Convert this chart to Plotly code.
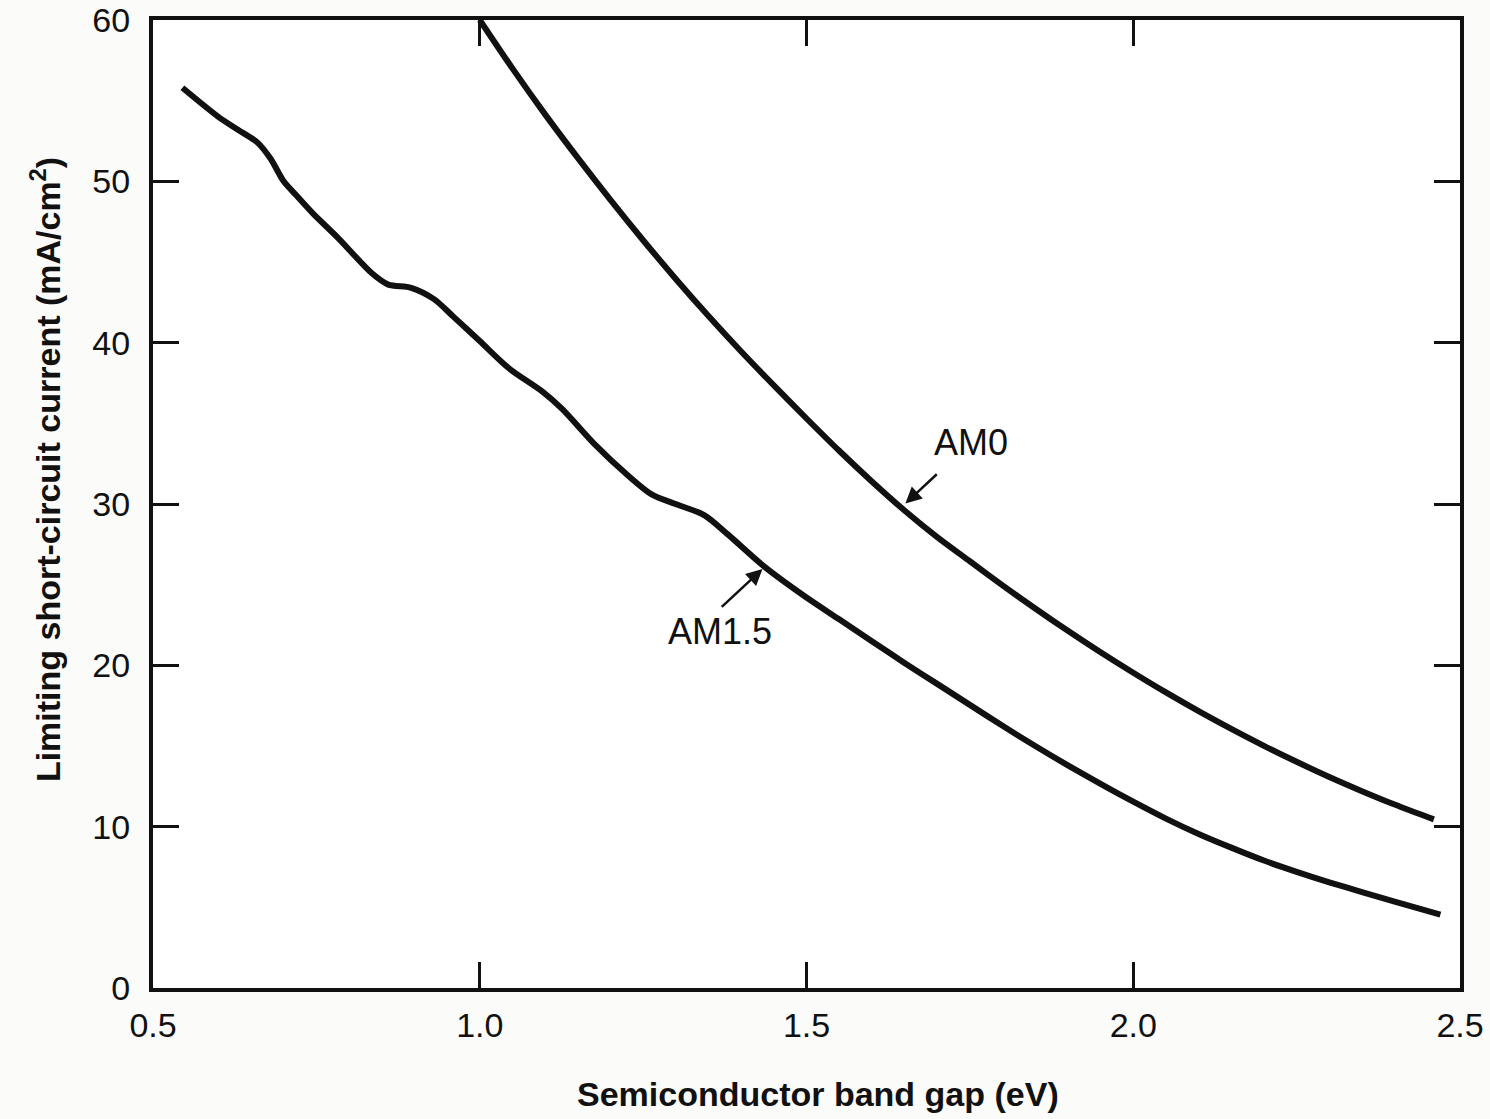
import plotly.graph_objects as go

# Limiting short-circuit current vs. semiconductor band gap
am0_gap = [1.00, 1.05, 1.10, 1.15, 1.20, 1.25, 1.30, 1.35, 1.40, 1.45, 1.50,
           1.55, 1.60, 1.65, 1.70, 1.75, 1.80, 1.85, 1.90, 1.95, 2.00, 2.05,
           2.10, 2.15, 2.20, 2.25, 2.30, 2.35, 2.40, 2.46]
am0_jsc = [60.0, 57.0, 54.15, 51.45, 48.85, 46.35, 43.95, 41.65, 39.45, 37.35,
           35.3, 33.3, 31.4, 29.6, 27.95, 26.45, 24.96, 23.52, 22.14, 20.81,
           19.54, 18.32, 17.16, 16.06, 15.01, 14.02, 13.08, 12.2, 11.37, 10.45]

am15_gap = [0.545, 0.60, 0.63, 0.66, 0.68, 0.70, 0.72, 0.745, 0.783, 0.835,
            0.86, 0.895, 0.93, 0.96, 1.00, 1.045, 1.095, 1.126, 1.176, 1.226,
            1.263, 1.303, 1.344, 1.38, 1.436, 1.50, 1.55, 1.60, 1.65, 1.70,
            1.75, 1.80, 1.85, 1.90, 1.95, 2.00, 2.05, 2.10, 2.15, 2.20, 2.25,
            2.30, 2.35, 2.40, 2.47]
am15_jsc = [55.8, 54.0, 53.2, 52.4, 51.4, 50.0, 49.1, 48.0, 46.5, 44.3,
            43.6, 43.4, 42.7, 41.6, 40.1, 38.4, 37.0, 35.9, 33.7, 31.8,
            30.6, 29.95, 29.3, 28.1, 26.1, 24.2, 22.85, 21.5, 20.15, 18.85,
            17.55, 16.25, 15.0, 13.8, 12.65, 11.55, 10.5, 9.55, 8.7, 7.9, 7.2,
            6.55, 5.95, 5.35, 4.55]

x_ticks = [0.5, 1.0, 1.5, 2.0, 2.5]
x_ticklabels = ["0.5", "1.0", "1.5", "2.0", "2.5"]
y_ticks = [0, 10, 20, 30, 40, 50, 60]

x_title = "<b>Semiconductor band gap (eV)</b>"
y_title = "<b>Limiting short-circuit current (mA/cm<sup>2</sup>)</b>"

INK = "#111111"
SANS = "Liberation Sans, Arial, Helvetica, sans-serif"
TICK_FONT = dict(family=SANS, size=34, color=INK)
TITLE_FONT = dict(family="Liberation Sans Narrow, " + SANS, size=34, color=INK)
LABEL_FONT = dict(family=SANS, size=36, color=INK)

fig = go.Figure()
for gx, gy, name in [(am0_gap, am0_jsc, "AM0"), (am15_gap, am15_jsc, "AM1.5")]:
    fig.add_trace(go.Scatter(
        x=gx, y=gy, mode="lines", name=name,
        line=dict(color=INK, width=6, shape="spline", smoothing=0.8),
        showlegend=False, hoverinfo="x+y",
    ))

axis_common = dict(
    showline=True, linecolor=INK, linewidth=4, mirror="ticks",
    ticks="inside", ticklen=26, tickwidth=3, tickcolor=INK,
    showgrid=False, zeroline=False, tickfont=TICK_FONT,
)

fig.update_xaxes(range=[0.5, 2.5], tickvals=x_ticks, ticktext=x_ticklabels,
                 ticklabelstandoff=4, **axis_common)
fig.update_yaxes(range=[0, 60], tickvals=y_ticks, ticklabelstandoff=12,
                 **axis_common)

arrow_style = dict(showarrow=True, arrowhead=2, arrowsize=1.3, arrowwidth=2.5,
                   arrowcolor=INK, axref="x", ayref="y", xref="x", yref="y",
                   font=LABEL_FONT, standoff=3)

annotations = [
    # curve labels, each with a pointer to its curve
    dict(text="AM0", x=1.648, y=29.9, ax=1.751, ay=33.8,
         startstandoff=14, **arrow_style),
    dict(text="AM1.5", x=1.436, y=26.1, ax=1.367, ay=23.5,
         xanchor="center", yanchor="top", startstandoff=3, **arrow_style),
    # axis titles
    dict(x=0.509, y=0, xref="paper", yref="paper", yshift=-106,
         text=x_title, showarrow=False, font=TITLE_FONT,
         xanchor="center", yanchor="middle"),
    dict(x=0, y=0.535, xref="paper", yref="paper", xshift=-108,
         text=y_title, showarrow=False, textangle=-90, font=TITLE_FONT,
         xanchor="center", yanchor="middle"),
]

fig.update_layout(
    width=1490, height=1119,
    margin=dict(l=153, r=30, t=20, b=131, autoexpand=False),
    paper_bgcolor="#fbfbfa", plot_bgcolor="#ffffff",
    annotations=annotations,
)

fig.write_html("out.html")
